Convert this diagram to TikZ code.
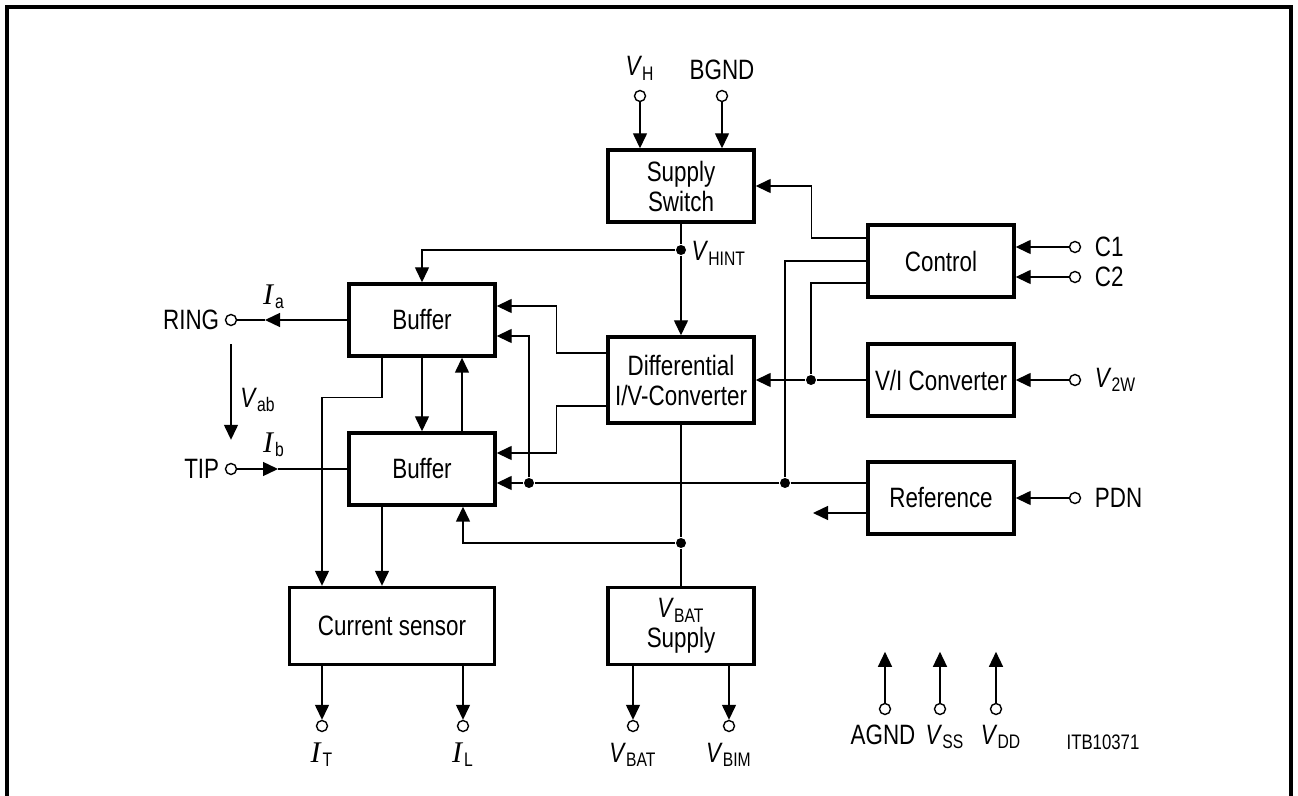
\documentclass[tikz,border=0pt]{standalone}
\usepackage{fontspec}
\setmainfont[FakeStretch=0.8]{Liberation Sans}
\newfontfamily\curfont{Liberation Serif}
\usepackage{tikz}
\usetikzlibrary{arrows.meta}
\usetikzlibrary{positioning}
\tikzset{>=latex}
\tikzset{blk/.style={draw, line width=1.7pt, align=center, inner sep=0, minimum width=73pt, minimum height=36pt}}
\tikzset{arr/.style={-{Triangle[length=7.5pt,width=7pt]}}}
\tikzset{term/.style={draw, circle, fill=white, inner sep=0, minimum size=5.5pt}}
\tikzset{jdot/.style={circle, fill, inner sep=0, minimum size=5pt}}
\tikzset{lbl/.style={inner sep=1pt}}
\newcommand{\vsub}[2]{\textit{#1}\textsubscript{#2}}
\newcommand{\isub}[1]{{\curfont\itshape\fontsize{15}{16}\selectfont I}\kern1pt\textsubscript{#1}}

\begin{document}
\begin{tikzpicture}[x=0.5pt, y=-0.5pt, line width=0.7pt, font=\fontsize{14}{15}\selectfont]
\useasboundingbox (0,0) rectangle (1298,796);
\draw [line width=1.6pt] (7,796) -- (7,7) -- (1291,7) -- (1291,796);

% blocks
\node [blk] (sw) at (681,186) {Supply\\Switch};
\node [blk, minimum height=43pt] (diff) at (681,380) {Differential\\I/V-Converter};
\node [blk, minimum height=38.5pt] (vbs) at (681,626) {\vsub{V}{BAT}\\Supply};
\node [blk] (ctrl) at (941,261) {Control};
\node [blk] (vi) at (941,380) {V/I Converter};
\node [blk] (ref) at (941,498) {Reference};
\node [blk] (bufa) at (422,320) {Buffer};
\node [blk] (bufb) at (422,469) {Buffer};
\node [blk, minimum width=102.5pt, minimum height=38.5pt] (cs) at (392,626) {Current sensor};

% supply inputs
\node [term] (vh) at (640,96) {};
\node [term] (bgnd) at (722,96) {};
\node [lbl, above=3.5pt of vh] (lvh) {\vsub{V}{H}};
\node [lbl, above=3.5pt of bgnd] (lbgnd) {BGND};
\draw [arr] (vh) -- (vh |- sw.north);
\draw [arr] (bgnd) -- (bgnd |- sw.north);

% internal supply
\node [jdot] (vhint) at (681,250) {};
\node [lbl, anchor=north west] (lvhint) at (689,239) {\vsub{V}{HINT}};
\draw (sw) -- (vhint);
\draw [arr] (vhint) -- (diff.north);
\draw [arr] (vhint) -| (bufa.north);

% control
\draw [arr] ([yshift=11.5pt]ctrl.west) -- ++(-55,0) |- (sw.east);
\node [jdot] (jref) at (785,483) {};
\node [jdot] (jvi) at (811,380) {};
\draw (ctrl.west) -| (jref);
\draw ([yshift=-11pt]ctrl.west) -| (jvi);
\draw (vi) -- (jvi);
\draw [arr] (jvi) -- (diff.east);

% right terminals
\node [term] (c1) at (1075,247) {};
\node [term] (c2) at (1075,277) {};
\node [term] (v2w) at (1075,380) {};
\node [term] (pdn) at (1075,498) {};
\node [lbl, right=5.5pt of c1] (lc1) {C1};
\node [lbl, right=5.5pt of c2] (lc2) {C2};
\node [lbl, right=5.5pt of v2w] (lv2w) {\vsub{V}{2W}};
\node [lbl, right=5.5pt of pdn] (lpdn) {PDN};
\draw [arr] (c1) -- (c1 -| ctrl.east);
\draw [arr] (c2) -- (c2 -| ctrl.east);
\draw [arr] (v2w) -- (vi.east);
\draw [arr] (pdn) -- (ref.east);

% reference
\draw (jref) -- (jref -| ref.west);
\coordinate (refout) at (813,513);
\draw [arr] (refout -| ref.west) -- (refout);

% bias line to buffers
\node [jdot] (jbuf) at (529,483) {};
\draw [arr] (jref) -- (jbuf) -- (jbuf -| bufb.east);
\draw [arr] (jbuf) |- ([yshift=-8pt]bufa.east);

% differential converter to buffers
\draw [arr] ([yshift=13.5pt]diff.west) -- ++(-50,0) |- ([yshift=7pt]bufa.east);
\draw [arr] ([yshift=-13pt]diff.west) -- ++(-50,0) |- ([yshift=8pt]bufb.east);

% battery line
\node [jdot] (jbat) at (681,543) {};
\draw (diff) -- (jbat) -- (vbs);
\draw [arr] (jbat) -| ([xshift=20.5pt]bufb.south);

% buffers
\draw [arr] (bufa) -- (bufb);
\draw [arr] ([xshift=20pt]bufb.north) -- ([xshift=20pt]bufa.south);
\draw [arr] ([xshift=-20pt]bufa.south) -- ++(0,40) -| ([xshift=-35pt]cs.north);
\draw [arr] ([xshift=-20pt]bufb.south) -- ([xshift=-20pt]bufb.south |- cs.north);

% line terminals
\node [term] (ring) at (231,320) {};
\node [lbl, left=1.5pt of ring] (lring) {RING};
\coordinate (ia) at (265,320);
\draw [arr] (bufa.west) -- (ia);
\draw (ia) -- (ring);
\node (lia) at (274,297) {\isub{a}};
\node [term] (tip) at (231,469) {};
\node [lbl, left=1.5pt of tip] (ltip) {TIP};
\coordinate (ib) at (278,469);
\draw [arr] (tip) -- (ib);
\draw (ib) -- (bufb.west);
\node (lib) at (274,445) {\isub{b}};
\draw [arr] ([yshift=-9pt]ring.south) -- ([yshift=11.5pt]tip.north);
\node (lvab) at (258,400) {\vsub{V}{ab}};

% current sensor outputs
\node [term] (it) at (322,726) {};
\node [term] (il) at (463,726) {};
\draw [arr] (it |- cs.south) -- (it);
\draw [arr] (il |- cs.south) -- (il);
\node [lbl, below=4pt of it] (lit) {\isub{T}};
\node [lbl, below=4pt of il] (lil) {\isub{L}};

% battery outputs
\node [term] (vbat) at (633,726) {};
\node [term] (vbim) at (729,726) {};
\draw [arr] (vbat |- vbs.south) -- (vbat);
\draw [arr] (vbim |- vbs.south) -- (vbim);
\node [lbl, below=4pt of vbat] (lvbat) {\vsub{V}{BAT}};
\node [lbl, below=4pt of vbim] (lvbim) {\vsub{V}{BIM}};

% ground and supplies
\node [term] (agnd) at (885,709) {};
\node [term] (vss) at (940,709) {};
\node [term] (vdd) at (996,709) {};
\draw [arr] (agnd) -- ([yshift=25.5pt]agnd.north);
\draw [arr] (vss) -- ([yshift=25.5pt]vss.north);
\draw [arr] (vdd) -- ([yshift=25.5pt]vdd.north);
\node [lbl, below=3.5pt of agnd, xshift=-1pt] (lagnd) {AGND};
\node [lbl, below=3.5pt of vss, xshift=2.5pt] (lvss) {\vsub{V}{SS}};
\node [lbl, below=3.5pt of vdd, xshift=2.5pt] (lvdd) {\vsub{V}{DD}};

\node [font=\fontsize{10.5}{12}\selectfont] (itb) at (1103,742) {ITB10371};
\end{tikzpicture}
\end{document}
